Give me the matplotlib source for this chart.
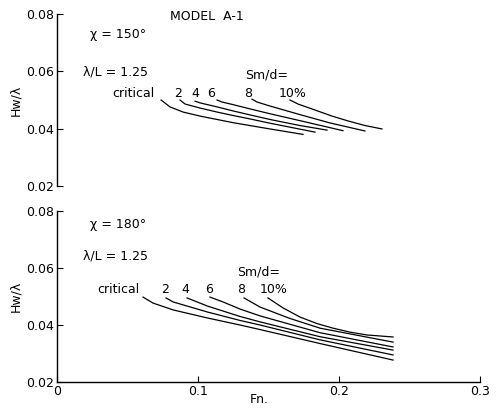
import matplotlib
matplotlib.use('Agg')
from matplotlib import pyplot as plt

# ---- top panel (chi = 150 deg), curves ----
top_labels = ['critical', '2', '4', '6', '8', '10%']
top_fn = [
    [0.0738, 0.0801, 0.0894, 0.1014, 0.1248, 0.1511, 0.1745],
    [0.0872, 0.0908, 0.1014, 0.1135, 0.1248, 0.1369, 0.1511, 0.1830],
    [0.0979, 0.1014, 0.1135, 0.1248, 0.1369, 0.1511, 0.1723, 0.1915],
    [0.1135, 0.1170, 0.1248, 0.1369, 0.1511, 0.1723, 0.2028],
    [0.1383, 0.1418, 0.1511, 0.1723, 0.1936, 0.2184],
    [0.1652, 0.1709, 0.1830, 0.1950, 0.2064, 0.2184, 0.2305],
]
top_hw = [
    [0.0500, 0.0476, 0.0458, 0.0444, 0.0421, 0.0399, 0.0380],
    [0.0500, 0.0486, 0.0472, 0.0458, 0.0446, 0.0434, 0.0419, 0.0388],
    [0.0496, 0.0490, 0.0476, 0.0462, 0.0448, 0.0432, 0.0411, 0.0395],
    [0.0500, 0.0493, 0.0484, 0.0469, 0.0452, 0.0428, 0.0393],
    [0.0503, 0.0493, 0.0479, 0.0449, 0.0420, 0.0392],
    [0.0500, 0.0486, 0.0465, 0.0444, 0.0427, 0.0411, 0.0399],
]

# ---- bottom panel (chi = 180 deg) ----
bot_fn = [
    [0.0610, 0.0681, 0.0823, 0.1064, 0.1298, 0.1440, 0.1865, 0.2383],
    [0.0773, 0.0823, 0.1064, 0.1298, 0.1440, 0.1865, 0.2383],
    [0.0922, 0.1064, 0.1298, 0.1440, 0.1865, 0.2383],
    [0.1085, 0.1177, 0.1298, 0.1440, 0.1865, 0.2383],
    [0.1326, 0.1440, 0.1652, 0.1865, 0.2383],
    [0.1496, 0.1603, 0.1723, 0.1844, 0.1957, 0.2078, 0.2199, 0.2383],
]
bot_hw = [
    [0.0498, 0.0477, 0.0453, 0.0425, 0.0400, 0.0384, 0.0335, 0.0277],
    [0.0495, 0.0481, 0.0446, 0.0416, 0.0400, 0.0348, 0.0295],
    [0.0495, 0.0467, 0.0430, 0.0411, 0.0359, 0.0312],
    [0.0498, 0.0481, 0.0456, 0.0432, 0.0373, 0.0323],
    [0.0495, 0.0463, 0.0423, 0.0389, 0.0340],
    [0.0495, 0.0460, 0.0428, 0.0405, 0.0389, 0.0375, 0.0365, 0.0358],
]

yticks = [0.02, 0.04, 0.06, 0.08]
ytick_labels = ['0.02', '0.04', '0.06', '0.08']
xticks = [0, 0.1, 0.2, 0.3]
xtick_labels = ['0', '0.1', '0.2', '0.3']

fs = 9
fig = plt.figure(figsize=(4.98, 4.12), dpi=100)
ax1 = fig.add_axes([0.1145, 0.5485, 0.8494, 0.4175])
ax2 = fig.add_axes([0.1145, 0.0728, 0.8494, 0.4150])

for ax in (ax1, ax2):
    ax.set_xlim(0, 0.3)
    ax.set_ylim(0.02, 0.08)
    ax.spines['top'].set_visible(False)
    ax.spines['right'].set_visible(False)
    ax.spines['left'].set_linewidth(1.0)
    ax.set_yticks(yticks, ytick_labels, fontsize=fs)
    ax.tick_params(direction='in', length=4, width=0.8, pad=2)
    ax.set_ylabel('Hw/λ', fontsize=fs, labelpad=3)

ax1.spines['bottom'].set_visible(False)
ax1.set_xticks([])
ax2.set_xticks(xticks, xtick_labels, fontsize=fs)
ax2.spines['bottom'].set_linewidth(1.0)

for xs, ys in zip(top_fn, top_hw):
    ax1.plot(xs, ys, color='black', linewidth=0.9)
for xs, ys in zip(bot_fn, bot_hw):
    ax2.plot(xs, ys, color='black', linewidth=0.9)

# annotations, top
ax1.text(0.080, 0.0790, 'MODEL  A-1', fontsize=fs, va='center')
ax1.text(0.0234, 0.0727, 'χ = 150°', fontsize=fs, va='center')
ax1.text(0.0184, 0.0598, 'λ/L = 1.25', fontsize=fs, va='center')
ax1.text(0.1333, 0.0587, 'Sm/d=', fontsize=fs, va='center')
top_lab_x = [0.0390, 0.0858, 0.0980, 0.1090, 0.1355, 0.1570]
for lab, x in zip(top_labels, top_lab_x):
    ax1.text(x, 0.0522, lab, fontsize=fs, va='center',
             ha='left' if lab in ('critical', '10%') else 'center')

# annotations, bottom
ax2.text(0.0234, 0.0751, 'χ = 180°', fontsize=fs, va='center')
ax2.text(0.0184, 0.0642, 'λ/L = 1.25', fontsize=fs, va='center')
ax2.text(0.1277, 0.0586, 'Sm/d=', fontsize=fs, va='center')
bot_lab_x = [0.0284, 0.0766, 0.0908, 0.1078, 0.1305, 0.1440]
for lab, x in zip(top_labels, bot_lab_x):
    ax2.text(x, 0.0524, lab, fontsize=fs, va='center',
             ha='left' if lab in ('critical', '10%') else 'center')

ax2.set_xlabel('Fn.', fontsize=fs, labelpad=0)
ax2.xaxis.set_label_coords(0.478, -0.065)

fig.savefig('out.png', dpi=100)
